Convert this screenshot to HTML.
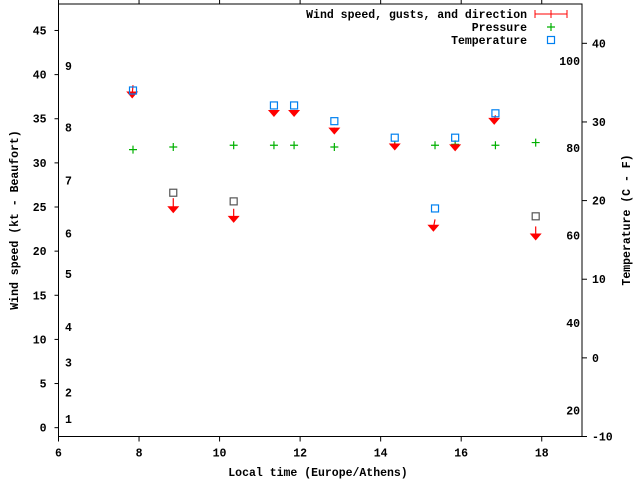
<!DOCTYPE html>
<html><head><meta charset="utf-8"><style>
body{margin:0;background:#fff}
svg text{font-family:"Liberation Mono",monospace;font-weight:bold;font-size:11.5px;fill:#000}
</style></head><body>
<svg id="c" width="640" height="480" xmlns="http://www.w3.org/2000/svg"></svg>
<script>
const xTicks=[6,8,10,12,14,16,18];
const yTicks=[0,5,10,15,20,25,30,35,40,45];
const y2Ticks=[-10,0,10,20,30,40];
const beaufort=[[1,1],[2,4],[3,7.4],[4,11.4],[5,17.4],[6,22],[7,28],[8,34],[9,41]];
const fTicks=[20,40,60,80,100];
const times=[7.85,8.85,10.35,11.35,11.85,12.85,14.35,15.35,15.85,16.85,17.85];
const pressure=[31.5,31.8,32.0,32.0,32.0,31.8,32.0,32.0,32.1,32.0,32.3];
const tempC=[34.0,21.0,19.9,32.1,32.1,30.1,28.0,19.0,28.0,31.1,18.0];
const windSpeed=[37.3,24.3,23.2,35.2,35.2,33.2,31.4,22.2,31.3,34.3,21.2];
const gust=[38.8,26.0,24.8,36.0,36.0,34.0,32.3,23.6,32.2,35.4,22.8];
const dirShift=[0.02,0,0,0,0,0,0,0.04,0,0.03,0];
const L=58.5,R=582,T=4,B=436.5;
const X=v=>L+(v-6)*(R-L)/13;
const Y=v=>B-(v+1)*(B-T)/49;
const Y2=v=>B-(v+10)*(B-T)/55;
const svg=document.getElementById('c');const NS='http://www.w3.org/2000/svg';
function el(t,a,txt){const e=document.createElementNS(NS,t);for(const k in a)e.setAttribute(k,a[k]);if(txt!==undefined)e.textContent=txt;svg.appendChild(e);return e;}
let e;
e=el('rect',{x:L,y:T,width:R-L,height:B-T,fill:'none',stroke:'#000','stroke-width':1});

xTicks.forEach(v=>{const x=X(v);
 e=el('line',{x1:x,y1:B,x2:x,y2:B+5,stroke:'#000'});
 e=el('line',{x1:x,y1:T,x2:x,y2:T-5,stroke:'#000'});
 e=el('text',{x:x,y:B+20,'text-anchor':'middle'},v);});
yTicks.forEach(v=>{const y=Y(v);
 e=el('line',{x1:L,y1:y,x2:L-4,y2:y,stroke:'#000'});
 e=el('text',{x:L-12,y:y+4,'text-anchor':'end'},v);});
y2Ticks.forEach(v=>{const y=Y2(v);
 e=el('line',{x1:R,y1:y,x2:R+5,y2:y,stroke:'#000'});
 e=el('text',{x:R+10,y:y+4,'text-anchor':'start'},v);});
beaufort.forEach(b=>{e=el('text',{x:65,y:Y(b[1])+4},b[0]);});
fTicks.forEach(f=>{e=el('text',{x:R-2,y:Y2((f-32)*5/9)+4,'text-anchor':'end'},f);});
e=el('text',{x:318,y:476,'text-anchor':'middle'},'Local time (Europe/Athens)');
e=el('text',{x:18,y:220,'text-anchor':'middle',transform:'rotate(-90 18 220)'},'Wind speed (kt - Beaufort)');
e=el('text',{x:630,y:220,'text-anchor':'middle',transform:'rotate(-90 630 220)'},'Temperature (C - F)');
times.forEach((t,i)=>{const x=X(t),y=Y(pressure[i]);
 e=el('path',{d:`M${x-4},${y}H${x+4}M${x},${y-4}V${y+4}`,stroke:'#00b000','stroke-width':1.2});});
times.forEach((t,i)=>{const x0=X(t),y0=Y(gust[i]),x1=X(t+dirShift[i]*-1),y1=Y(windSpeed[i]);
 e=el('line',{x1:x0,y1:y0,x2:x1,y2:y1-4,stroke:'#f00','stroke-width':1.2});
 e=el('path',{d:`M${x1-6},${y1-7}L${x1+6},${y1-7}L${x1},${y1}Z`,fill:'#f00'});});
times.forEach((t,i)=>{const x=X(t),y=Y2(tempC[i]);
 e=el('rect',{x:x-3.5,y:y-3.5,width:7,height:7,fill:'none',stroke:i==1||i==2||i==10?'#555':'#0080f0','stroke-width':1.2});});
e=el('text',{x:527,y:18,'text-anchor':'end'},'Wind speed, gusts, and direction');
e=el('path',{d:'M535,14H567M535,10V18M567,10V18M551,10V18',stroke:'#f00','stroke-width':1});
e=el('text',{x:527,y:31,'text-anchor':'end'},'Pressure');
e=el('path',{d:'M547,27H555M551,23V31',stroke:'#00b000','stroke-width':1.2});
e=el('text',{x:527,y:44,'text-anchor':'end'},'Temperature');
e=el('rect',{x:547.5,y:36.5,width:7,height:7,fill:'none',stroke:'#0080f0','stroke-width':1.2});
</script>
</body></html>
